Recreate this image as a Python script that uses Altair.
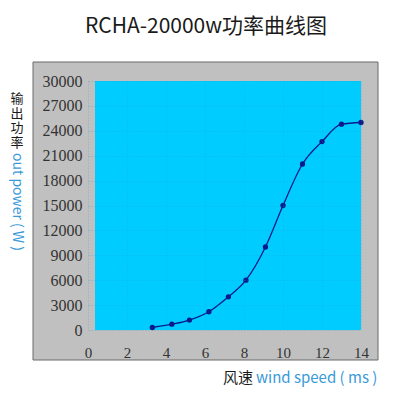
import altair as alt
import pandas as pd

wind_speed = [3.3, 4.3, 5.2, 6.2, 7.2, 8.1, 9.1, 10.0, 11.0, 12.0, 13.0, 14.0]
power_w = [300, 700, 1200, 2200, 4000, 6000, 10000, 15000, 20000, 22700, 24800, 25000]
x_ticks = [0, 2, 4, 6, 8, 10, 12, 14]
y_ticks = [0, 3000, 6000, 9000, 12000, 15000, 18000, 21000, 24000, 27000, 30000]

title_text = "RCHA-20000w功率曲线图"
y_title_cn = ["输", "出", "功", "率"]
y_title_en = "out power ( W )"
x_title_cn = "风速"
x_title_en = "wind speed ( ms )"

W, H = 273, 249
df = pd.DataFrame({"ws": wind_speed, "p": power_w})
one = pd.DataFrame({"a": [0]})

xs = alt.Scale(domain=[0, 14], nice=False, zero=False)
ys = alt.Scale(domain=[0, 30000], nice=False)

panel = alt.Chart(one).mark_rect(fill="#c0c0c0", stroke="#6b6b6b", strokeWidth=1).encode(
    x=alt.value(-55), x2=alt.value(290), y=alt.value(-19), y2=alt.value(279)
)
cyan = alt.Chart(one).mark_rect(fill="#00ccff").encode(
    x=alt.value(7), x2=alt.value(W), y=alt.value(0), y2=alt.value(H)
)

base = alt.Chart(df).encode(
    x=alt.X("ws:Q", scale=xs, axis=alt.Axis(
        values=x_ticks, title=None, grid=True, gridColor="#1a9fd0", gridDash=[1, 2],
        gridOpacity=0.35, domain=False, ticks=False, labelPadding=15, labelFlush=False,
        labelFont="Liberation Serif", labelFontSize=15, labelColor="#333333", zindex=1)),
    y=alt.Y("p:Q", scale=ys, axis=alt.Axis(
        values=y_ticks, title=None, grid=True, gridColor="#1a9fd0", gridDash=[1, 2],
        gridOpacity=0.45, domain=False, ticks=False, labelPadding=6, format="d",
        labelFont="Liberation Serif", labelFontSize=16, labelColor="#333333", zindex=1)),
)
line = base.mark_line(color="#0a1a8a", strokeWidth=1.3, interpolate="monotone")
pts = base.mark_point(filled=True, color="#0a1a8a", size=28, opacity=1)

def txt(text, x, y, color, size, align="left", angle=0, baseline="middle", font="Noto Sans CJK SC"):
    return alt.Chart(one).mark_text(text=text, align=align, baseline=baseline, color=color,
                                    fontSize=size, font=font, angle=angle).encode(
        x=alt.value(x), y=alt.value(y))

title = txt(title_text, 118, -54, "#1a1a1a", 21, align="center")
ycn = [txt(ch, -71, 18 + 14.5 * i, "#1a1a1a", 13, align="center") for i, ch in enumerate(y_title_cn)]
yen = txt(y_title_en, -71, 72, "#3a9ad9", 14, angle=90)
xcn = txt(x_title_cn, 135, 297, "#1a1a1a", 15)
xen = txt(x_title_en, 168, 297, "#3a9ad9", 15)

chart = alt.layer(panel, cyan, line, pts, title, *ycn, yen, xcn, xen).properties(
    width=W, height=H,
    autosize=alt.AutoSizeParams(type="none"),
    padding={"left": 80, "top": 73, "right": 30, "bottom": 70},
).configure_view(stroke=None)

chart.save("out.html", embed_options={"renderer": "svg", "actions": False})
